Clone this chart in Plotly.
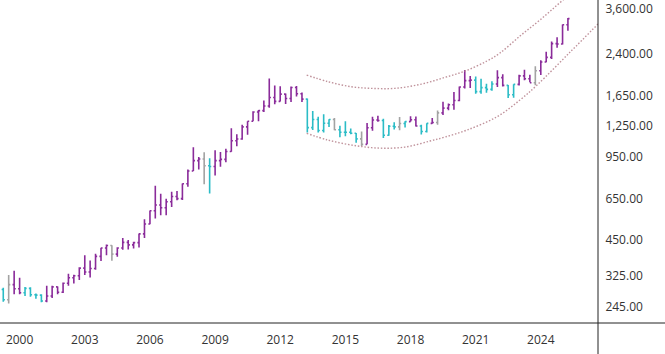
import math
import pandas as pd
import plotly.graph_objects as go

# Quarterly bars, 1999 Q2 .. 2025 Q2
quarters = pd.date_range("1999-04-01", periods=105, freq="QS").strftime("%Y-%m-%d").tolist()

opens = [286, 261, 299,
         288, 278, 289, 273,
         272, 258, 270, 293,
         279, 303, 318, 324,
         347, 335, 346, 386,
         416, 426, 394, 416,
         438, 428, 437, 473,
         517, 583, 614, 599,
         632, 663, 650, 743,
         834, 916, 929, 874,
         869, 916, 926, 995,
         1096, 1113, 1242, 1307,
         1421, 1439, 1500, 1620,
         1564, 1669, 1604, 1772,
         1675, 1596, 1234, 1327,
         1202, 1284, 1327, 1210,
         1184, 1183, 1172, 1115,
         1061, 1233, 1321, 1316,
         1152, 1249, 1242, 1280,
         1303, 1325, 1252, 1192,
         1282, 1292, 1409, 1472,
         1517, 1577, 1781, 1886,
         1895, 1708, 1770, 1743,
         1829, 1937, 1807, 1660,
         1824, 1969, 1919, 1849,
         2063, 2230, 2327, 2635,
         2625, 3124]
highs = [291, 326, 339,
         318, 293, 292, 276,
         274, 296, 296, 294,
         305, 330, 327, 350,
         390, 372, 395, 417,
         430, 427, 419, 456,
         447, 440, 474, 540,
         584, 730, 679, 649,
         691, 697, 745, 845,
         1033, 946, 988, 935,
         1006, 990, 1019, 1226,
         1161, 1265, 1308, 1431,
         1447, 1577, 1921, 1803,
         1792, 1679, 1790, 1796,
         1694, 1605, 1434, 1361,
         1392, 1332, 1345, 1255,
         1307, 1224, 1175, 1191,
         1287, 1362, 1375, 1337,
         1263, 1296, 1357, 1307,
         1366, 1365, 1265, 1285,
         1346, 1439, 1557, 1535,
         1703, 1789, 2075, 1965,
         1959, 1916, 1834, 1877,
         2070, 1998, 1814, 1825,
         1990, 2081, 1987, 2146,
         2265, 2450, 2685, 2790,
         3128, 3318]
lows = [256, 252, 274,
        274, 270, 268, 263,
        255, 255, 265, 274,
        277, 296, 302, 312,
        326, 319, 342, 370,
        390, 371, 385, 410,
        411, 414, 418, 456,
        516, 543, 560, 560,
        603, 640, 642, 723,
        834, 845, 740, 681,
        801, 866, 902, 992,
        1044, 1106, 1156, 1306,
        1308, 1420, 1478, 1523,
        1563, 1527, 1556, 1635,
        1555, 1180, 1208, 1181,
        1182, 1240, 1206, 1131,
        1142, 1162, 1077, 1046,
        1061, 1200, 1302, 1123,
        1146, 1214, 1204, 1236,
        1302, 1246, 1160, 1180,
        1279, 1266, 1382, 1445,
        1451, 1567, 1757, 1764,
        1677, 1677, 1690, 1721,
        1780, 1787, 1614, 1617,
        1804, 1893, 1857, 1810,
        1985, 2228, 2293, 2537,
        2614, 2957]
closes = [261, 299, 288,
          278, 289, 273, 272,
          258, 270, 293, 279,
          303, 318, 324, 347,
          335, 346, 386, 416,
          426, 394, 416, 438,
          428, 437, 473, 517,
          583, 614, 599, 632,
          663, 650, 743, 834,
          916, 929, 874, 869,
          916, 926, 995, 1096,
          1113, 1242, 1307, 1421,
          1439, 1500, 1620, 1564,
          1669, 1604, 1772, 1675,
          1596, 1234, 1327, 1202,
          1284, 1327, 1210, 1184,
          1183, 1172, 1115, 1061,
          1233, 1321, 1316, 1152,
          1249, 1242, 1280, 1303,
          1325, 1252, 1192, 1282,
          1292, 1409, 1472, 1517,
          1577, 1781, 1886, 1895,
          1708, 1770, 1743, 1829,
          1937, 1807, 1660, 1824,
          1969, 1919, 1849, 2063,
          2230, 2327, 2635, 2625,
          3124, 3300]
# bar colour class: p = purple, c = cyan, g = grey
bar_class = list("cgp" "pccc" "cppp" "pppp" "pppp" "pgpp" "pppp" "pppp" "pppp"
                 "ppgc" "pppp" "pppp" "pppp" "pppp" "pccc" "ccgc" "cccg" "pppc"
                 "ccgc" "ppcc" "pgpp" "pppp" "cccc" "ppcc" "pppg" "pppp" "pp")

# Dotted channel lines
upper_dates = ["2013-03-21", "2014-03-18", "2015-04-16", "2016-03-18", "2017-04-12",
               "2018-07-05", "2019-08-03", "2020-07-05", "2021-07-09", "2022-02-13",
               "2023-01-15", "2023-12-16", "2025-01-08", "2026-08-18"]
upper_vals = [1983, 1867, 1784, 1759, 1759, 1828, 1942, 2056, 2250, 2419, 2820, 3258, 3905, 5115]
lower_dates = ["2013-03-21", "2014-03-14", "2015-04-20", "2016-07-01", "2017-09-27",
               "2018-11-24", "2019-08-03", "2020-08-07", "2021-12-25", "2023-01-15",
               "2023-10-30", "2025-05-08", "2026-08-20"]
lower_vals = [1172, 1103, 1054, 1026, 1035, 1093, 1133, 1207, 1361, 1583, 1812, 2440, 3143]

x_tick_years = ["2000", "2003", "2006", "2009", "2012", "2015", "2018", "2021", "2024"]
y_tick_vals = [245, 325, 450, 650, 950, 1250, 1650, 2400, 3600]
y_tick_text = ["245.00", "325.00", "450.00", "650.00", "950.00", "1,250.00", "1,650.00", "2,400.00", "3,600.00"]

palette = {"p": "#8a2b9a", "c": "#2bbcc6", "g": "#a3a3a3"}

fig = go.Figure()
for key in ["g", "c", "p"]:
    idx = [i for i, k in enumerate(bar_class) if k == key]
    fig.add_trace(go.Ohlc(
        x=[quarters[i] for i in idx],
        open=[opens[i] for i in idx], high=[highs[i] for i in idx],
        low=[lows[i] for i in idx], close=[closes[i] for i in idx],
        increasing=dict(line=dict(color=palette[key], width=1.6)),
        decreasing=dict(line=dict(color=palette[key], width=1.6)),
        tickwidth=0.3, hoverinfo="skip", showlegend=False))

for d, v in [(upper_dates, upper_vals), (lower_dates, lower_vals)]:
    fig.add_trace(go.Scatter(x=d, y=v, mode="lines", line=dict(color="#c0939c", width=1.4, dash="1.5px,1.8px", shape="spline"),
                             hoverinfo="skip", showlegend=False))

fig.update_layout(
    width=665, height=354, margin=dict(l=0, r=67, t=0, b=31),
    paper_bgcolor="white", plot_bgcolor="white", showlegend=False,
    font=dict(family="Open Sans", size=12, color="#333333"),
    shapes=[
        dict(type="line", xref="paper", yref="paper", x0=0, x1=665 / 598, y0=0, y1=0,
             line=dict(color="#222222", width=1)),
        dict(type="line", xref="paper", yref="paper", x0=1, x1=1, y0=-31 / 323, y1=1,
             line=dict(color="#222222", width=1)),
    ],
)
fig.update_xaxes(type="date", range=["1999-02-05", "2026-08-20"],
                 tickvals=[y + "-01-01" for y in x_tick_years], ticktext=x_tick_years,
                 showgrid=False, zeroline=False, showline=False, rangeslider_visible=False,
                 ticks="outside", ticklen=6, tickcolor="rgba(0,0,0,0)",
                 tickfont=dict(size=12, color="#333333"))
fig.update_yaxes(type="log", side="right", range=[math.log10(211.5), math.log10(3905)],
                 tickvals=y_tick_vals, ticktext=y_tick_text,
                 showgrid=False, zeroline=False, showline=False,
                 ticks="outside", ticklen=4, tickcolor="rgba(0,0,0,0)",
                 tickfont=dict(size=12, color="#333333"))

fig.write_html("out.html")
